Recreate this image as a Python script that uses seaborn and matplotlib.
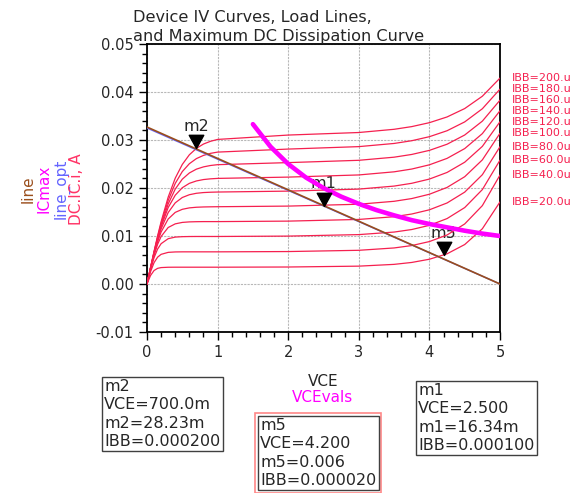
import pandas as pd
import matplotlib
matplotlib.use("Agg")
import matplotlib.pyplot as plt
from matplotlib.path import Path
from matplotlib.ticker import MultipleLocator, FormatStrFormatter
import seaborn as sns

# dados (VCE em V, IC em A)
vce = [0, 0.05, 0.1, 0.15, 0.2, 0.3, 0.4, 0.5, 0.6, 0.7, 0.8, 0.9, 1.0,
       2.0, 3.0, 3.5, 3.75, 4.0, 4.25, 4.5, 4.75, 5.0]

ibb_labels = ["20.0u", "40.0u", "60.0u", "80.0u", "100.u",
              "120.u", "140.u", "160.u", "180.u", "200.u"]

ic_20u = [0, 0.00177, 0.00281, 0.00326, 0.00342, 0.00349, 0.0035, 0.0035, 0.0035, 0.0035, 0.0035, 0.0035, 0.0035,
          0.00354, 0.00372, 0.00409, 0.00449, 0.00516, 0.00629, 0.00822, 0.01151, 0.0171]
ic_40u = [0, 0.00255, 0.00445, 0.00559, 0.00618, 0.00659, 0.00668, 0.0067, 0.0067, 0.0067, 0.0067, 0.0067, 0.0067,
          0.00676, 0.00702, 0.00751, 0.00801, 0.00884, 0.01021, 0.01251, 0.01633, 0.0227]
ic_60u = [0, 0.0030, 0.00549, 0.00727, 0.0084, 0.00944, 0.00977, 0.00986, 0.00989, 0.0099, 0.0099, 0.0099, 0.0099,
          0.00998, 0.01029, 0.01082, 0.01135, 0.01222, 0.01363, 0.01592, 0.01967, 0.0258]
ic_80u = [0, 0.00318, 0.00601, 0.00826, 0.0099, 0.01177, 0.01253, 0.01283, 0.01294, 0.01298, 0.013, 0.013, 0.013,
          0.0131, 0.01345, 0.01402, 0.01458, 0.01546, 0.01688, 0.01914, 0.02277, 0.0286]
ic_100u = [0, 0.00324, 0.00623, 0.00878, 0.01084, 0.01354, 0.01492, 0.01556, 0.01586, 0.01599, 0.01605, 0.01608, 0.0161,
           0.01623, 0.01662, 0.01723, 0.0178, 0.0187, 0.02012, 0.02235, 0.02586, 0.0314]
ic_120u = [0, 0.00328, 0.00637, 0.00913, 0.01149, 0.01489, 0.01691, 0.01802, 0.0186, 0.0189, 0.01905, 0.01912, 0.01916,
           0.01935, 0.01977, 0.0204, 0.02098, 0.02186, 0.02324, 0.02537, 0.02867, 0.0338]
ic_140u = [0, 0.00332, 0.0065, 0.00941, 0.01196, 0.01593, 0.0185, 0.02006, 0.02097, 0.02147, 0.02176, 0.02191, 0.022,
           0.02227, 0.02272, 0.02337, 0.02395, 0.02483, 0.02617, 0.02821, 0.03133, 0.0361]
ic_160u = [0, 0.00333, 0.00654, 0.00954, 0.01224, 0.01667, 0.01978, 0.02184, 0.02313, 0.02393, 0.0244, 0.02469, 0.02486,
           0.02529, 0.02577, 0.02642, 0.02699, 0.02784, 0.02912, 0.03104, 0.03393, 0.0383]
ic_180u = [0, 0.00339, 0.00667, 0.00978, 0.01262, 0.01741, 0.02096, 0.02342, 0.02506, 0.02613, 0.02679, 0.02722, 0.02748,
           0.02811, 0.02862, 0.02928, 0.02985, 0.03069, 0.03193, 0.03377, 0.03651, 0.0406]
ic_200u = [0, 0.00345, 0.00681, 0.01001, 0.01298, 0.0181, 0.02205, 0.02491, 0.02692, 0.02826, 0.02916, 0.02973, 0.03012,
           0.03103, 0.03156, 0.03223, 0.03279, 0.03361, 0.0348, 0.03655, 0.03912, 0.0429]

ic_curves = [ic_20u, ic_40u, ic_60u, ic_80u, ic_100u, ic_120u, ic_140u, ic_160u, ic_180u, ic_200u]

# retas de carga
line_vce = [0.0, 5.0]
line_ic = [0.0327, 0.0]
line_opt_ic = [0.0325, 0.0]

# curva de dissipacao maxima
icmax_vce = [1.5, 1.75, 2.0, 2.25, 2.5, 2.75, 3.0, 3.25, 3.5, 3.75, 4.0, 4.25, 4.5, 4.75, 5.0]
icmax_ic = [0.0333, 0.0286, 0.025, 0.0222, 0.02, 0.0182, 0.0167, 0.0154, 0.0143, 0.0133, 0.0125, 0.0118, 0.0111, 0.0105, 0.01]

# marcadores
mk_names = ["m2", "m1", "m5"]
mk_vce = [0.7, 2.5, 4.2]
mk_ic = [0.02823, 0.01634, 0.006]
mk_text = ["m2\nVCE=700.0m\nm2=28.23m\nIBB=0.000200",
           "m1\nVCE=2.500\nm1=16.34m\nIBB=0.000100",
           "m5\nVCE=4.200\nm5=0.006\nIBB=0.000020"]

RED = "#f5204f"
BROWN = "#9a4e1c"
BLUE = "#6464ff"
MAGENTA = "#ff00ff"

rows = []
for lab, ic in zip(ibb_labels, ic_curves):
    for v, i in zip(vce, ic):
        rows.append({"VCE": v, "IC": i, "IBB": lab})
df = pd.DataFrame(rows)
df_line = pd.DataFrame({"VCE": line_vce, "line": line_ic, "line_opt": line_opt_ic})
df_icmax = pd.DataFrame({"VCE": icmax_vce, "ICmax": icmax_ic})

sns.set_style("ticks")
plt.rcParams["font.family"] = ["DejaVu Sans"]

fig = plt.figure(figsize=(5.78, 4.93), dpi=100)
W, H = 578, 493
ax = fig.add_axes([147 / W, 1 - 332 / H, 353 / W, 288 / H])

sns.lineplot(data=df, x="VCE", y="IC", hue="IBB", palette=[RED] * 10, estimator=None,
             sort=False, legend=False, linewidth=0.9, ax=ax, zorder=3)
sns.lineplot(data=df_line, x="VCE", y="line_opt", color=BLUE, linewidth=1.0, ax=ax, zorder=4)
sns.lineplot(data=df_line, x="VCE", y="line", color=BROWN, linewidth=1.2, ax=ax, zorder=5)
sns.lineplot(data=df_icmax, x="VCE", y="ICmax", color=MAGENTA, linewidth=3.3, ax=ax, zorder=6)

ax.set_xlim(0, 5)
ax.set_ylim(-0.01, 0.05)
ax.xaxis.set_major_locator(MultipleLocator(1))
ax.xaxis.set_minor_locator(MultipleLocator(0.2))
ax.yaxis.set_major_locator(MultipleLocator(0.01))
ax.yaxis.set_minor_locator(MultipleLocator(0.002))
ax.yaxis.set_major_formatter(FormatStrFormatter("%.2f"))
ax.xaxis.set_major_formatter(FormatStrFormatter("%d"))
ax.tick_params(which="major", direction="out", length=6, width=1, labelsize=10.5, color="black")
ax.tick_params(which="minor", direction="out", length=3.5, width=1, color="black")
ax.grid(which="major", color="#b8b8b8", linestyle=(0, (2, 1)), linewidth=0.8)
for s in ax.spines.values():
    s.set_linewidth(1.3)
    s.set_color("black")
ax.set_xlabel("")
ax.set_ylabel("")

# marcadores triangulares com a ponta no ponto
tri = Path([(-0.55, 1.0), (0.55, 1.0), (0.0, 0.0), (-0.55, 1.0)],
           [Path.MOVETO, Path.LINETO, Path.LINETO, Path.CLOSEPOLY])
ax.plot(mk_vce, mk_ic, linestyle="none", marker=tri, markersize=19, color="black", zorder=7)
for n, x, y in zip(mk_names, mk_vce, mk_ic):
    ax.annotate(n, (x, y), xytext=(0, 22), textcoords="offset pixels", ha="center", va="center",
                fontsize=11.5, zorder=2)

# rotulos IBB a direita
for lab, ic in zip(ibb_labels, ic_curves):
    ax.annotate("IBB=" + lab, (1.0, ic[-1]), xycoords=("axes fraction", "data"),
                xytext=(12, 0), textcoords="offset pixels", ha="left", va="center",
                fontsize=8, color=RED, annotation_clip=False)

# titulo
fig.text(133 / W, 1 - 10 / H, "Device IV Curves, Load Lines,\nand Maximum DC Dissipation Curve",
         ha="left", va="top", fontsize=11.6, linespacing=1.35)

# rotulos do eixo y
for xp, txt, col in [(28, "line", BROWN), (44, "ICmax", MAGENTA),
                     (62, "line_opt", BLUE), (77, "DC.IC.i, A", "#ff3366")]:
    fig.text(xp / W, 1 - 189 / H, txt, rotation=90, ha="center", va="center", fontsize=11, color=col)

# rotulos do eixo x
fig.text(323 / W, 1 - 382 / H, "VCE", ha="center", va="center", fontsize=11)
fig.text(323 / W, 1 - 398 / H, "VCEvals", ha="center", va="center", fontsize=11, color=MAGENTA)

# caixas dos marcadores
box = dict(boxstyle="square,pad=0.15", facecolor="white", edgecolor="#404040", linewidth=1)
sel = dict(boxstyle="square,pad=0.32", facecolor="white", edgecolor="#ff8888", linewidth=1.2)
txt_kw = dict(ha="left", va="top", fontsize=11.5, linespacing=1.28)
fig.text(104 / W, 1 - 379 / H, mk_text[0], bbox=box, **txt_kw)
fig.text(418 / W, 1 - 383 / H, mk_text[1], bbox=box, **txt_kw)
fig.text(260 / W, 1 - 418 / H, mk_text[2], bbox=sel, color="none", **txt_kw)
fig.text(260 / W, 1 - 418 / H, mk_text[2], bbox=box, **txt_kw)

fig.savefig("out.png", dpi=100)
